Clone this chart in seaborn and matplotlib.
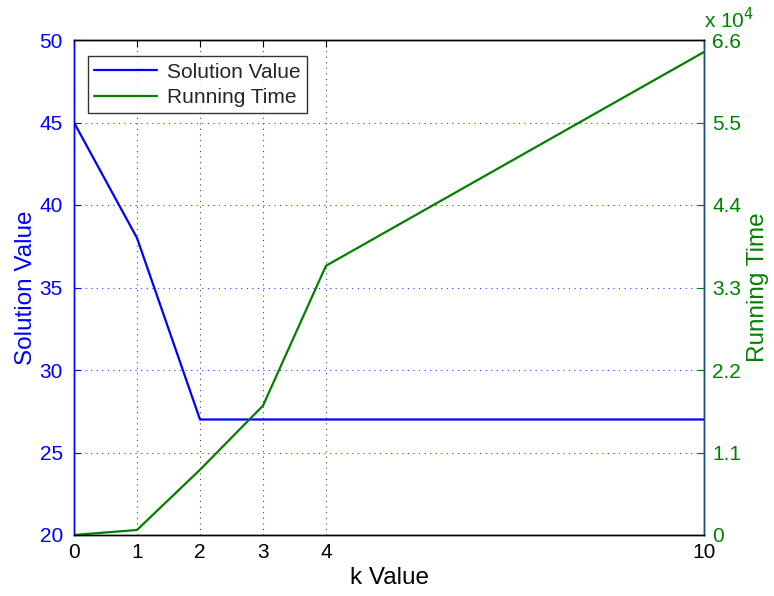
import matplotlib
matplotlib.use("Agg")
import matplotlib.pyplot as plt
import matplotlib.ticker as mticker
import seaborn as sns
import pandas as pd

# data
k_values = [0, 1, 2, 3, 4, 10]
solution_value = [45, 38, 27, 27, 27, 27]
running_time = [0, 670, 8700, 17250, 35900, 64400]

left_ticks = [20, 25, 30, 35, 40, 45, 50]
right_ticks = [0, 11000, 22000, 33000, 44000, 55000, 66000]

df = pd.DataFrame({"k": k_values, "sol": solution_value, "time": running_time})

sns.set_style("white")
plt.rcParams["font.family"] = ["Liberation Sans", "DejaVu Sans"]

blue = "#0000ff"
green = "#008000"
fs = 15
lab_fs = 17.5

fig = plt.figure(figsize=(7.74, 5.96), dpi=100)
ax = fig.add_axes([74 / 774, 1 - 535 / 596, 630 / 774, 495 / 596])
ax2 = ax.twinx()

sns.lineplot(data=df, x="k", y="sol", ax=ax, color=blue, lw=1.6, label="Solution Value", legend=False)
sns.lineplot(data=df, x="k", y="time", ax=ax2, color=green, lw=1.6, label="Running Time", legend=False)

ax.set_xlim(0, 10)
ax.set_ylim(20, 50)
ax.set_xticks(k_values)
ax.set_yticks(left_ticks)
ax2.set_ylim(0, 66000)
ax2.set_yticks(right_ticks)
ax2.yaxis.set_major_formatter(mticker.FuncFormatter(lambda v, p: f"{v / 1e4:g}"))

# grids: blue dotted horizontal, dark dotted vertical
for y in left_ticks[1:-1]:
    ax.axhline(y, color=blue, ls=(0, (1, 4)), lw=0.8, alpha=0.8, zorder=0)
for x in k_values[1:-1]:
    ax.axvline(x, color="#444444", ls=(0, (1, 4)), lw=0.8, zorder=0)

ax.set_xlabel("k Value", fontsize=lab_fs, color="black", labelpad=3)
ax.set_ylabel("Solution Value", fontsize=lab_fs, color=blue, labelpad=2)
ax2.set_ylabel("Running Time", fontsize=lab_fs, color=green, labelpad=4)

ax.tick_params(axis="x", colors="black", labelsize=fs, direction="in", length=5, top=True, pad=6)
ax.tick_params(axis="y", colors=blue, labelsize=fs, direction="in", length=5, pad=8)
ax2.tick_params(axis="y", colors=green, labelsize=fs, direction="in", length=5, pad=6)

for a in (ax, ax2):
    for s in a.spines.values():
        s.set_linewidth(1.0)
        s.set_color("black")
ax.spines["left"].set_color(blue)
ax2.spines["left"].set_color(blue)
ax2.spines["right"].set_color("#1f4f7f")

ax2.text(1.0, 1.015, "x 10$^{4}$", transform=ax2.transAxes, color=green, fontsize=fs,
         ha="left", va="bottom")

h1, l1 = ax.get_legend_handles_labels()
h2, l2 = ax2.get_legend_handles_labels()
leg = ax2.legend(h1 + h2, l1 + l2, loc="upper left", bbox_to_anchor=(0.006, 0.988),
                 fontsize=15, frameon=True, fancybox=False, edgecolor="black",
                 handlelength=3.0, handletextpad=0.5, borderpad=0.3, labelspacing=0.3)
leg.get_frame().set_linewidth(1.0)

fig.savefig("out.png", dpi=100)
